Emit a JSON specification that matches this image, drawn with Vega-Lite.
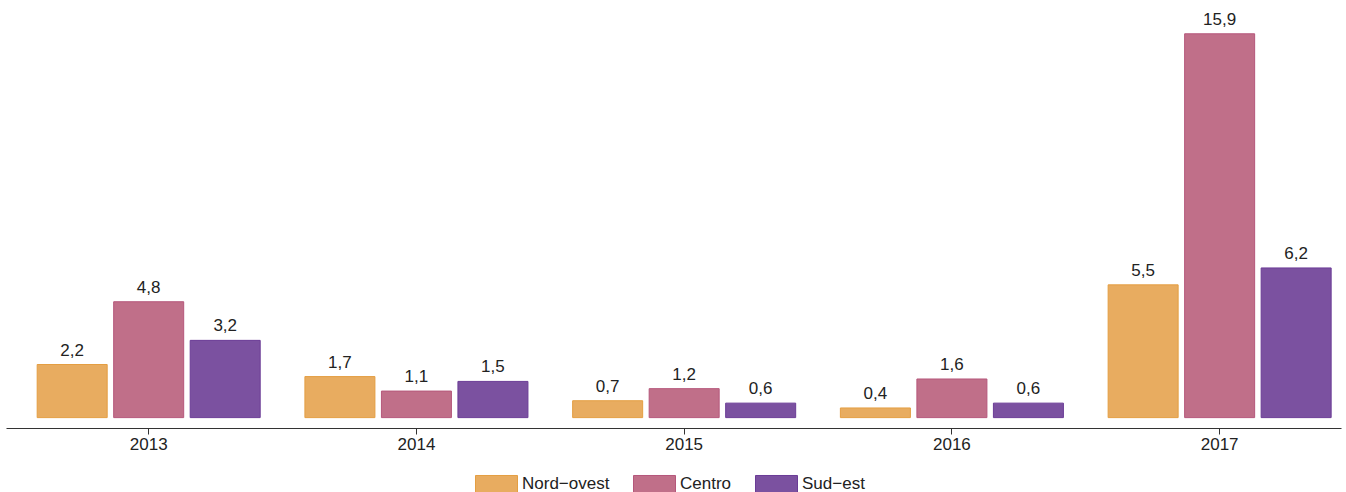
{
  "$schema": "https://vega.github.io/schema/vega-lite/v6.json",
  "width": 1335,
  "height": 428,
  "autosize": "none",
  "padding": {"left": 6, "top": 0, "right": 5, "bottom": 64},
  "background": "white",
  "config": {
    "view": {"stroke": null},
    "font": "Liberation Sans",
    "text": {"font": "Liberation Sans"}
  },
  "data": {
    "values": [
      {"anno": "2013", "area": "Nord−ovest", "value": 2.2, "label": "2,2"},
      {"anno": "2013", "area": "Centro", "value": 4.8, "label": "4,8"},
      {"anno": "2013", "area": "Sud−est", "value": 3.2, "label": "3,2"},
      {"anno": "2014", "area": "Nord−ovest", "value": 1.7, "label": "1,7"},
      {"anno": "2014", "area": "Centro", "value": 1.1, "label": "1,1"},
      {"anno": "2014", "area": "Sud−est", "value": 1.5, "label": "1,5"},
      {"anno": "2015", "area": "Nord−ovest", "value": 0.7, "label": "0,7"},
      {"anno": "2015", "area": "Centro", "value": 1.2, "label": "1,2"},
      {"anno": "2015", "area": "Sud−est", "value": 0.6, "label": "0,6"},
      {"anno": "2016", "area": "Nord−ovest", "value": 0.4, "label": "0,4"},
      {"anno": "2016", "area": "Centro", "value": 1.6, "label": "1,6"},
      {"anno": "2016", "area": "Sud−est", "value": 0.6, "label": "0,6"},
      {"anno": "2017", "area": "Nord−ovest", "value": 5.5, "label": "5,5"},
      {"anno": "2017", "area": "Centro", "value": 15.9, "label": "15,9"},
      {"anno": "2017", "area": "Sud−est", "value": 6.2, "label": "6,2"}
    ]
  },
  "encoding": {
    "x": {
      "field": "anno",
      "type": "nominal",
      "scale": {"paddingInner": 0.167, "paddingOuter": 0.0766, "align": 0.76},
      "axis": {
        "title": null,
        "labelAngle": 0,
        "labelFontSize": 17,
        "labelColor": "#222222",
        "labelFont": "Liberation Sans",
        "labelPadding": 2,
        "domainColor": "#333333",
        "domainWidth": 1.2,
        "tickColor": "#333333",
        "tickSize": 6,
        "tickWidth": 1,
        "grid": false
      }
    },
    "xOffset": {
      "field": "area",
      "type": "nominal",
      "sort": ["Nord−ovest", "Centro", "Sud−est"],
      "scale": {"paddingInner": 0.085, "paddingOuter": 0}
    },
    "y": {
      "field": "value",
      "type": "quantitative",
      "scale": {"domain": [-0.43, 17.3], "nice": false, "zero": false},
      "axis": null
    }
  },
  "layer": [
    {
      "mark": {"type": "bar", "strokeWidth": 1},
      "encoding": {
        "y2": {"datum": 0},
        "color": {
          "field": "area",
          "type": "nominal",
          "sort": ["Nord−ovest", "Centro", "Sud−est"],
          "scale": {"domain": ["Nord−ovest", "Centro", "Sud−est"], "range": ["#E8AC60", "#C06F89", "#7B51A0"]},
          "legend": {
            "title": null,
            "orient": "none",
            "direction": "horizontal",
            "legendX": 469,
            "legendY": 462,
            "symbolType": "M-1,-0.405H1V0.405H-1Z",
            "symbolSize": 1764,
            "symbolStrokeWidth": 1,
            "labelFontSize": 17,
            "labelColor": "#222222",
            "labelFont": "Liberation Sans",
            "labelOffset": 4,
            "columnPadding": 21,
            "padding": 0
          }
        },
        "stroke": {
          "field": "area",
          "type": "nominal",
          "scale": {"domain": ["Nord−ovest", "Centro", "Sud−est"], "range": ["#E49E42", "#B5577B", "#6B3C96"]},
          "legend": null
        }
      }
    },
    {
      "mark": {"type": "text", "baseline": "alphabetic", "dy": -9, "fontSize": 17, "color": "#222222", "font": "Liberation Sans"},
      "encoding": {
        "text": {"field": "label", "type": "nominal"}
      }
    }
  ]
}
